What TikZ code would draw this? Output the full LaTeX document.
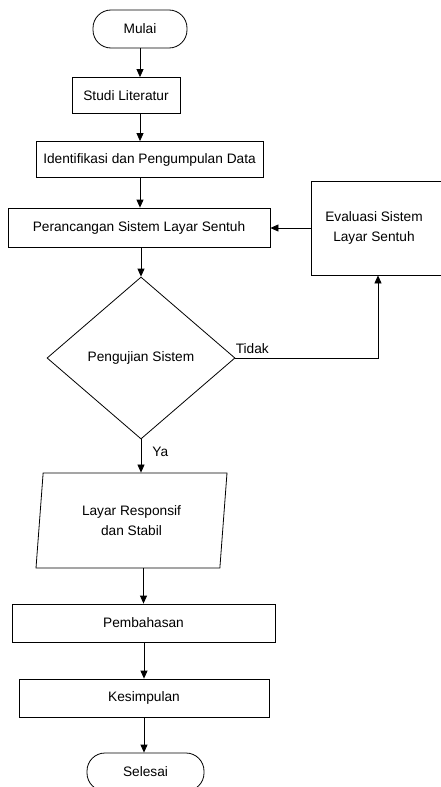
\documentclass[tikz,border=0pt]{standalone}
\usepackage{fontspec}
\setmainfont{Liberation Sans}
\usetikzlibrary{arrows.meta, shapes.geometric}

\begin{document}
\begin{tikzpicture}[x=1pt, y=-1pt, line width=0.8pt,
  font=\fontsize{13.7}{20}\selectfont,
  >={Triangle[length=8pt, width=7pt]},
  term/.style={draw, rounded corners=18, minimum width=94, minimum height=38},
  proc/.style={draw, align=center, minimum height=36},
  dec/.style={draw, diamond, minimum width=188, minimum height=162},
  io/.style={draw, trapezium, trapezium left angle=79, trapezium right angle=101,
    trapezium stretches body, align=center, minimum width=191, minimum height=95}]
  \useasboundingbox (0,0) rectangle (441,787);
  \node[term] (mulai) at (140,29) {Mulai};
  \node[proc, minimum width=108] (studi) at (126,95.5) {Studi Literatur};
  \node[proc, minimum width=227] (ident) at (149.5,159.5) {Identifikasi dan Pengumpulan Data};
  \node[proc, minimum width=262, minimum height=39] (peran) at (139,227.5) {Perancangan Sistem Layar Sentuh};
  % box runs past the right edge of the page
  \node[proc, minimum width=160, minimum height=94] (eval) at (391,228)
    {\hspace*{-34pt}Evaluasi Sistem\\\hspace*{-34pt}Layar Sentuh};
  \node[dec] (uji) at (141,358) {Pengujian Sistem};
  \node[io] (hasil) at (131.5,520.5) {Layar Responsif\\dan Stabil};
  \node[proc, minimum width=263, minimum height=38] (bahas) at (143.5,623) {Pembahasan};
  \node[proc, minimum width=250, minimum height=38] (simpul) at (144,698) {Kesimpulan};
  \node[term, minimum width=117] (selesai) at (145.5,772) {Selesai};
  \draw[->] (mulai.south) -- (mulai.south |- studi.north);
  \draw[->] (studi.south -| mulai) -- (ident.north -| mulai);
  \draw[->] (ident.south -| mulai) -- (peran.north -| mulai);
  \draw[->] (peran.south -| uji) -- (uji.north);
  \draw[->] (uji.east) -| ([xshift=-13]eval.south)
    node[pos=0, anchor=south west, inner sep=0, yshift=4] {Tidak};
  \draw[->] (eval.west) -- (eval.west -| peran.east);
  \draw[->] (uji.south) -- (uji.south |- hasil.north)
    node[pos=0.38, anchor=west, inner sep=0, xshift=11] {Ya};
  \draw[->] (hasil.south -| bahas) -- (bahas.north);
  \draw[->] (bahas.south -| simpul) -- (simpul.north);
  \draw[->] (simpul.south) -- (simpul.south |- selesai.north);
\end{tikzpicture}
\end{document}
